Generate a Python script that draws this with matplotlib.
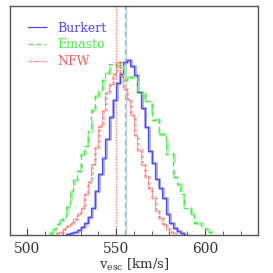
import numpy as np
import matplotlib
matplotlib.use("Agg")
import matplotlib.pyplot as plt

plt.rcParams['font.family'] = ['DejaVu Serif']
plt.rcParams['mathtext.fontset'] = 'dejavuserif'

# bin left edges (km/s), width 2
blue_edges = list(range(522, 590, 2))
blue_vals = [1, 2, 3, 5, 8, 12, 18, 27, 44, 61, 77, 96, 118, 134, 151, 160, 172,
             174, 168, 159, 142, 126, 108, 84, 72, 56, 47, 37, 21, 12, 7, 4, 2, 0]

red_edges = list(range(516, 584, 2))
red_vals = [2, 3, 6, 9, 12, 16, 21, 27, 41, 53, 71, 88, 109, 124, 141, 150, 160,
            172, 158, 145, 135, 120, 100, 85, 70, 58, 47, 37, 24, 17, 11, 6, 3, 2]

green_edges = list(range(512, 604, 2))
green_vals = [2, 6, 11, 15, 18, 28, 44, 55, 64, 81, 89, 104, 124, 138, 144, 154,
              161, 170, 170, 168, 172, 154, 157, 157, 157, 141, 141, 133, 133, 115,
              116, 101, 101, 81, 81, 58, 51, 41, 27, 27, 21, 12, 12, 9, 6, 3]

labels = ["Burkert", "Einasto", "NFW"]
colors = ["#4a4aff", "#44ee44", "#ff5a5a"]
light = ["#a8a8ff", "#a0f5a0", "#ffb0b0"]
styles = ["-", (0, (4, 2.5)), (0, (1, 1))]
vlines = [555.6, 555.2, 550.0]

fig = plt.figure(figsize=(2.73, 2.73), dpi=100)
ax = fig.add_axes([0.037, 0.139, 0.908, 0.839])

series = [(blue_edges, blue_vals), (green_edges, green_vals), (red_edges, red_vals)]
handles = []
for (edges, vals), c, lc, ls, lab in zip(series, colors, light, styles, labels):
    e = np.array(edges + [edges[-1] + 2], dtype=float)
    v = np.array(vals, dtype=float)
    xs = np.repeat(e, 2)[1:-1]
    ys = np.repeat(v, 2)
    ax.plot(xs + 0.4, ys, color=lc, lw=2.0, ls=ls, zorder=2)
    h, = ax.plot(xs, ys, color=c, lw=0.9, ls=ls, zorder=3, label=lab)
    handles.append(h)

vl_colors = ["#c8c8ff", "#66ee66", "#ff7777"]
for x, c, ls in zip(vlines, vl_colors, styles):
    ax.axvline(x, color=c, lw=1.0, ls=ls, zorder=1)

ax.set_xlim(490.4, 629.8)
ax.set_ylim(0, 228)
ax.set_xticks([500, 550, 600])
ax.set_xticks(np.arange(500, 630, 10), minor=True)
ax.set_yticks([])
ax.tick_params(axis='x', which='both', direction='in', top=False, labelsize=10,
               colors='#444444', labelcolor='#333333', pad=5)
ax.tick_params(axis='x', which='major', length=5)
ax.tick_params(axis='x', which='minor', length=3)
for s in ax.spines.values():
    s.set_color('#555555')
    s.set_linewidth(1.0)

ax.set_xlabel(r"v$_{\rm esc}$ [km/s]", fontsize=9.5, color='#333333', labelpad=1)

leg = ax.legend(handles=handles, loc='upper left', frameon=False, fontsize=9,
                handlelength=1.5, handletextpad=0.9, labelspacing=0.3,
                borderaxespad=0.3, bbox_to_anchor=(0.035, 0.97))
for t, c in zip(leg.get_texts(), colors):
    t.set_color(c)

fig.savefig("out.png", dpi=100)
